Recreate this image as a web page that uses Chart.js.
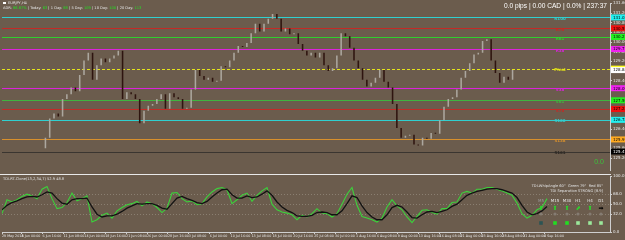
<!DOCTYPE html>
<html>
<head>
<meta charset="utf-8">
<script src="https://cdn.jsdelivr.net/npm/chart.js@4.4.1/dist/chart.umd.min.js"></script>
<style>
body { margin:0; background:#6b5c4d; width:625px; height:240px; overflow:hidden; position:relative; }
#c1 { position:absolute; left:0; top:0; }
#c2 { position:absolute; left:0; top:173px; }
#sep { position:absolute; left:0; top:174px; width:611px; height:1px; background:#e8e8e8; }
</style>
</head>
<body>
<canvas id="c1" width="625" height="174"></canvas>
<canvas id="c2" width="625" height="67"></canvas>
<div id="sep"></div>
<script>
// EURJPY H4 - closes (one value every few candles)
var firstOpen = 125.60;
var closes = [126.04,126.84,127.04,126.92,127.64,127.84,128.12,127.96,128.64,129.24,
  129.56,128.44,129.04,129.32,129.16,129.32,129.44,129.64,127.64,127.92,
  127.84,127.64,126.64,127.16,127.36,127.44,127.64,127.84,127.24,127.88,
  127.72,127.64,127.24,127.28,128.04,128.84,128.60,128.44,128.52,128.36,
  128.40,129.00,128.96,129.24,129.56,129.84,129.80,129.96,130.36,130.76,
  130.44,130.76,130.96,131.16,130.96,130.44,130.56,130.32,130.36,129.92,
  129.64,129.44,129.56,129.36,129.56,129.04,128.80,128.92,129.44,130.36,
  130.24,129.76,129.24,128.92,128.44,128.16,128.32,128.52,128.84,128.36,
  128.12,127.44,126.44,126.04,126.12,126.16,125.76,125.72,126.04,126.00,
  126.24,126.20,126.76,127.32,127.64,127.72,128.04,128.52,128.80,129.12,
  129.48,129.56,130.04,130.12,129.24,128.72,128.32,128.56,128.44,128.84];

// TDI panel
var tdiGreen = [33,58,54,58,64,68,65,60,77,82,60,42,44,53,70,56,60,65,18,22,
  30,34,25,38,44,49,51,55,47,54,51,44,35,43,70,71,60,54,56,49,
  51,63,72,78,80,76,51,58,66,70,55,66,74,80,50,40,36,34,31,22,
  30,27,33,42,34,33,27,33,50,68,80,48,28,25,22,18,25,45,58,47,
  40,27,17,28,39,40,35,32,42,42,53,54,70,73,70,77,77,80,80,77,
  74,70,66,52,33,25,30,40,44,60];
var tdiBlack = [40,48,53,56,60,63,64,63,67,72,70,60,52,50,58,60,60,61,45,32,
  27,29,29,32,37,43,47,51,50,51,51,48,43,41,51,61,64,60,57,53,
  51,55,63,70,76,77,67,61,61,65,62,63,68,74,66,54,45,39,35,29,
  28,28,30,35,36,35,31,31,38,51,65,62,47,35,27,22,22,31,44,48,
  45,36,26,25,31,36,37,35,37,40,46,50,58,66,70,73,75,77,78,78,
  76,73,70,62,48,36,31,33,38,46];
var tdiLevels = [68, 50, 32];
var tdiTicks = [100, 68, 50, 32, 0];

// fibo pivot levels
var levelNames = ["R100","R78","R61","R38","Pivot","S38","S61","S78","S100","S138","S161"];
var levelValues = [131.02,130.57,130.21,129.71,128.90,128.09,127.59,127.23,126.78,125.97,125.47];
var levelColors = ["#2fd0d0","#c42a26","#2fcf2f","#dc22dc","#e4e418","#dc22dc","#3fb53f","#c42a26","#2fd0d0","#d8902c","#3a3530"];
var tagColors = ["#22f0f0","#f01010","#22f022","#f022f0","#ffff22","#f022f0","#22f022","#f01010","#22f0f0","#ffaa20","#000000"];

var priceTicks = [131.6,131.2,130.8,130.4,130.0,129.6,129.2,128.8,128.4,128.0,127.6,127.2,126.8,126.4,126.0,125.6,125.2];
var timeLabels = ["29 May 2018","4 Jun 00:00","6 Jun 16:00","11 Jun 08:00","14 Jun 00:00","18 Jun 16:00",
  "21 Jun 08:00","26 Jun 00:00","28 Jun 16:00","3 Jul 08:00","6 Jul 00:00","10 Jul 16:00","13 Jul 08:00",
  "18 Jul 00:00","20 Jul 16:00","25 Jul 08:00","30 Jul 00:00","1 Aug 16:00","6 Aug 08:00","9 Aug 00:00",
  "13 Aug 16:00","16 Aug 08:00","21 Aug 00:00","23 Aug 16:00","28 Aug 08:00","31 Aug 00:00","4 Sep 16:00"];

var adrParts = [["ADR: ","#e6e6e6"],["86.87%","#22e022"],[" | Today: ","#e6e6e6"],["63","#22e022"],
  [" | 1 Day: ","#e6e6e6"],["88","#22e022"],[" | 5 Day: ","#e6e6e6"],["109","#22e022"],
  [" | 10 Day: ","#e6e6e6"],["100","#22e022"],[" | 20 Day: ","#e6e6e6"],["113","#22e022"]];

var tfNames = ["M5","M15","M30","H1","H4","D1"];
var tfArrows = ["\u2B06","\u2B06","\u2B06","\u2B08","\u2B06","\u27A1"];
var tfArrowColors = ["#2ad82a","#2ad82a","#2ad82a","#2ad82a","#2ad82a","#000000"];
var tfSquares = ["#2c5454","#22dd22","#22dd22","#9be89b","#9be89b","#9be89b"];

var FONT = "'DejaVu Sans', sans-serif";

function openOf(i) { return i == 0 ? firstOpen : closes[i - 1]; }

var mainPlugin = {
  id: 'mainOverlay',
  beforeDatasetsDraw: function(chart) {
    var ctx = chart.ctx, a = chart.chartArea, ys = chart.scales.y;
    ctx.save();
    ctx.lineWidth = 1;
    for (var i = 0; i < levelValues.length; i++) {
      var py = Math.round(ys.getPixelForValue(levelValues[i])) + 0.5;
      ctx.strokeStyle = levelColors[i];
      ctx.setLineDash(levelNames[i] == "Pivot" ? [3, 2] : []);
      ctx.beginPath(); ctx.moveTo(a.left, py); ctx.lineTo(a.right, py); ctx.stroke();
    }
    ctx.restore();
  },
  afterDraw: function(chart) {
    var ctx = chart.ctx, a = chart.chartArea, ys = chart.scales.y;
    ctx.save();
    // level names
    ctx.font = "bold 4px " + FONT;
    ctx.textAlign = "center"; ctx.textBaseline = "middle";
    for (var i = 0; i < levelValues.length; i++) {
      var py = ys.getPixelForValue(levelValues[i]);
      ctx.fillStyle = levelColors[i] == "#3a3530" ? "#2a2622" : levelColors[i];
      ctx.fillText(levelNames[i], a.right - 50, py + 1.5);
    }
    // price tags on the axis
    ctx.font = "4px " + FONT; ctx.textAlign = "left";
    var tags = levelValues.slice(), cols = tagColors.slice();
    tags.push(closes[closes.length - 1]); cols.push("#ffffff");
    for (var j = 0; j < tags.length; j++) {
      var ty = ys.getPixelForValue(tags[j]);
      ctx.fillStyle = cols[j];
      ctx.fillRect(a.right + 1, ty - 3, 15, 6);
      ctx.fillStyle = cols[j] == "#000000" ? "#ffffff" : "#000000";
      ctx.fillText(tags[j].toFixed(3), a.right + 3, ty + 0.3);
    }
    // header
    ctx.fillStyle = "#ffffff";
    ctx.fillRect(3, 2, 3, 2);
    ctx.font = "3.6px " + FONT; ctx.textBaseline = "middle";
    ctx.fillStyle = "#e6e6e6";
    ctx.fillText("EURJPY,H4", 8, 3);
    var x = 3;
    for (var k = 0; k < adrParts.length; k++) {
      ctx.fillStyle = adrParts[k][1];
      ctx.fillText(adrParts[k][0], x, 8.5);
      x += ctx.measureText(adrParts[k][0]).width;
    }
    ctx.font = "6.6px 'Liberation Sans', Arial, sans-serif";
    ctx.textAlign = "right"; ctx.fillStyle = "#ffffff";
    ctx.fillText("0.0 pips | 0.00 CAD | 0.0% | 237:37", 607, 6);
    ctx.font = "7px 'Liberation Sans', Arial, sans-serif";
    ctx.textAlign = "center"; ctx.fillStyle = "#3cc23c";
    ctx.fillText("0.0", 599, 162);
    ctx.restore();
  }
};

new Chart(document.getElementById("c1"), {
  type: "bar",
  data: {
    datasets: [{
      data: closes.map(function(c, i) { return { x: i, y: [openOf(i), c] }; }),
      backgroundColor: closes.map(function(c, i) { return c >= openOf(i) ? "#aca79f" : "#2e140f"; }),
      borderWidth: 0,
      barPercentage: 0.36,
      categoryPercentage: 1,
      minBarLength: 1
    }]
  },
  options: {
    responsive: false, animation: false, events: [],
    layout: { padding: { left: 2, top: 1, right: 0, bottom: 0 } },
    plugins: { legend: { display: false }, tooltip: { enabled: false } },
    scales: {
      x: { type: "linear", display: false, min: 0, max: 121.6 },
      y: {
        position: "right", min: 124.68, max: 131.6,
        afterFit: function(s) { s.width = 15; },
        afterBuildTicks: function(s) { s.ticks = priceTicks.map(function(v) { return { value: v }; }); },
        grid: { drawOnChartArea: false, color: "#cfcfcf", tickLength: 2 },
        border: { color: "#cfcfcf" },
        ticks: { color: "#e8e8e8", font: { size: 4, family: FONT }, padding: 1,
          callback: function(v) { return Number(v).toFixed(3); } }
      }
    }
  },
  plugins: [mainPlugin]
});

var tdiPlugin = {
  id: 'tdiOverlay',
  beforeDatasetsDraw: function(chart) {
    var ctx = chart.ctx, a = chart.chartArea, ys = chart.scales.y;
    ctx.save();
    ctx.strokeStyle = "#8a7f71"; ctx.lineWidth = 1; ctx.setLineDash([1, 2]);
    tdiLevels.forEach(function(v) {
      var py = Math.round(ys.getPixelForValue(v)) + 0.5;
      ctx.beginPath(); ctx.moveTo(a.left, py); ctx.lineTo(a.right, py); ctx.stroke();
    });
    ctx.restore();
  },
  afterDraw: function(chart) {
    var ctx = chart.ctx, top = 173;
    ctx.save();
    ctx.textBaseline = "middle";
    ctx.font = "3.6px " + FONT; ctx.fillStyle = "#e0e0e0"; ctx.textAlign = "left";
    ctx.fillText("TDI-RT-Clone(13,2,34,7) 52.9 48.8", 3, 179 - top);
    ctx.textAlign = "right";
    ctx.fillText("TDI-WhipAngle 60\u00B0  Green 79\u00B0  Red 85\u00B0", 603, 186 - top);
    ctx.fillText("TDI Separation STRONG [8.9]", 603, 191 - top);
    var cx = [541, 555, 567, 578, 590, 601];
    ctx.textAlign = "center";
    for (var i = 0; i < cx.length; i++) {
      ctx.font = "4px " + FONT;
      ctx.fillStyle = i == 0 ? "#9a9a9a" : "#e6e6e6";
      ctx.fillText(tfNames[i], cx[i], 201 - top);
      ctx.font = "bold 6px " + FONT;
      ctx.fillStyle = tfArrowColors[i];
      ctx.fillText(tfArrows[i], cx[i], 208 - top);
      ctx.fillStyle = "#857c72";
      ctx.beginPath(); ctx.arc(cx[i], 214 - top, 1.6, 0, Math.PI * 2); ctx.fill();
      ctx.fillStyle = tfSquares[i];
      ctx.fillRect(cx[i] - 1.8, 223 - top - 1.8, 3.6, 3.6);
    }
    ctx.restore();
  }
};

new Chart(document.getElementById("c2"), {
  type: "line",
  data: {
    datasets: [
      { data: tdiBlack.map(function(v, i) { return { x: i, y: v }; }), borderColor: "#121212", borderWidth: 1.3, pointRadius: 0, tension: 0 },
      { data: tdiGreen.map(function(v, i) { return { x: i, y: v }; }), borderColor: "#3bd23b", borderWidth: 1.1, pointRadius: 0, tension: 0 }
    ]
  },
  options: {
    responsive: false, animation: false, events: [],
    layout: { padding: { left: 2, top: 3, right: 0, bottom: 0 } },
    plugins: { legend: { display: false }, tooltip: { enabled: false } },
    scales: {
      x: {
        type: "linear", min: 0, max: 121.6,
        afterFit: function(s) { s.height = 8; },
        afterBuildTicks: function(s) {
          s.ticks = timeLabels.map(function(t, k) { return { value: Math.max(0, k * 4.18 - 0.26) }; });
        },
        grid: { drawOnChartArea: false, color: "#cfcfcf", tickLength: 2 },
        border: { color: "#cfcfcf" },
        ticks: { color: "#e8e8e8", font: { size: 3.3, family: FONT }, padding: 0, align: "start",
          autoSkip: false, maxRotation: 0, minRotation: 0,
          callback: function(v, idx) { return timeLabels[idx]; } }
      },
      y: {
        position: "right", min: 0, max: 100,
        afterFit: function(s) { s.width = 15; },
        afterBuildTicks: function(s) { s.ticks = tdiTicks.map(function(v) { return { value: v }; }); },
        grid: { drawOnChartArea: false, color: "#cfcfcf", tickLength: 2 },
        border: { color: "#cfcfcf" },
        ticks: { color: "#e8e8e8", font: { size: 4, family: FONT }, padding: 1,
          callback: function(v) { return Number(v).toFixed(1); } }
      }
    }
  },
  plugins: [tdiPlugin]
});
</script>
</body>
</html>
